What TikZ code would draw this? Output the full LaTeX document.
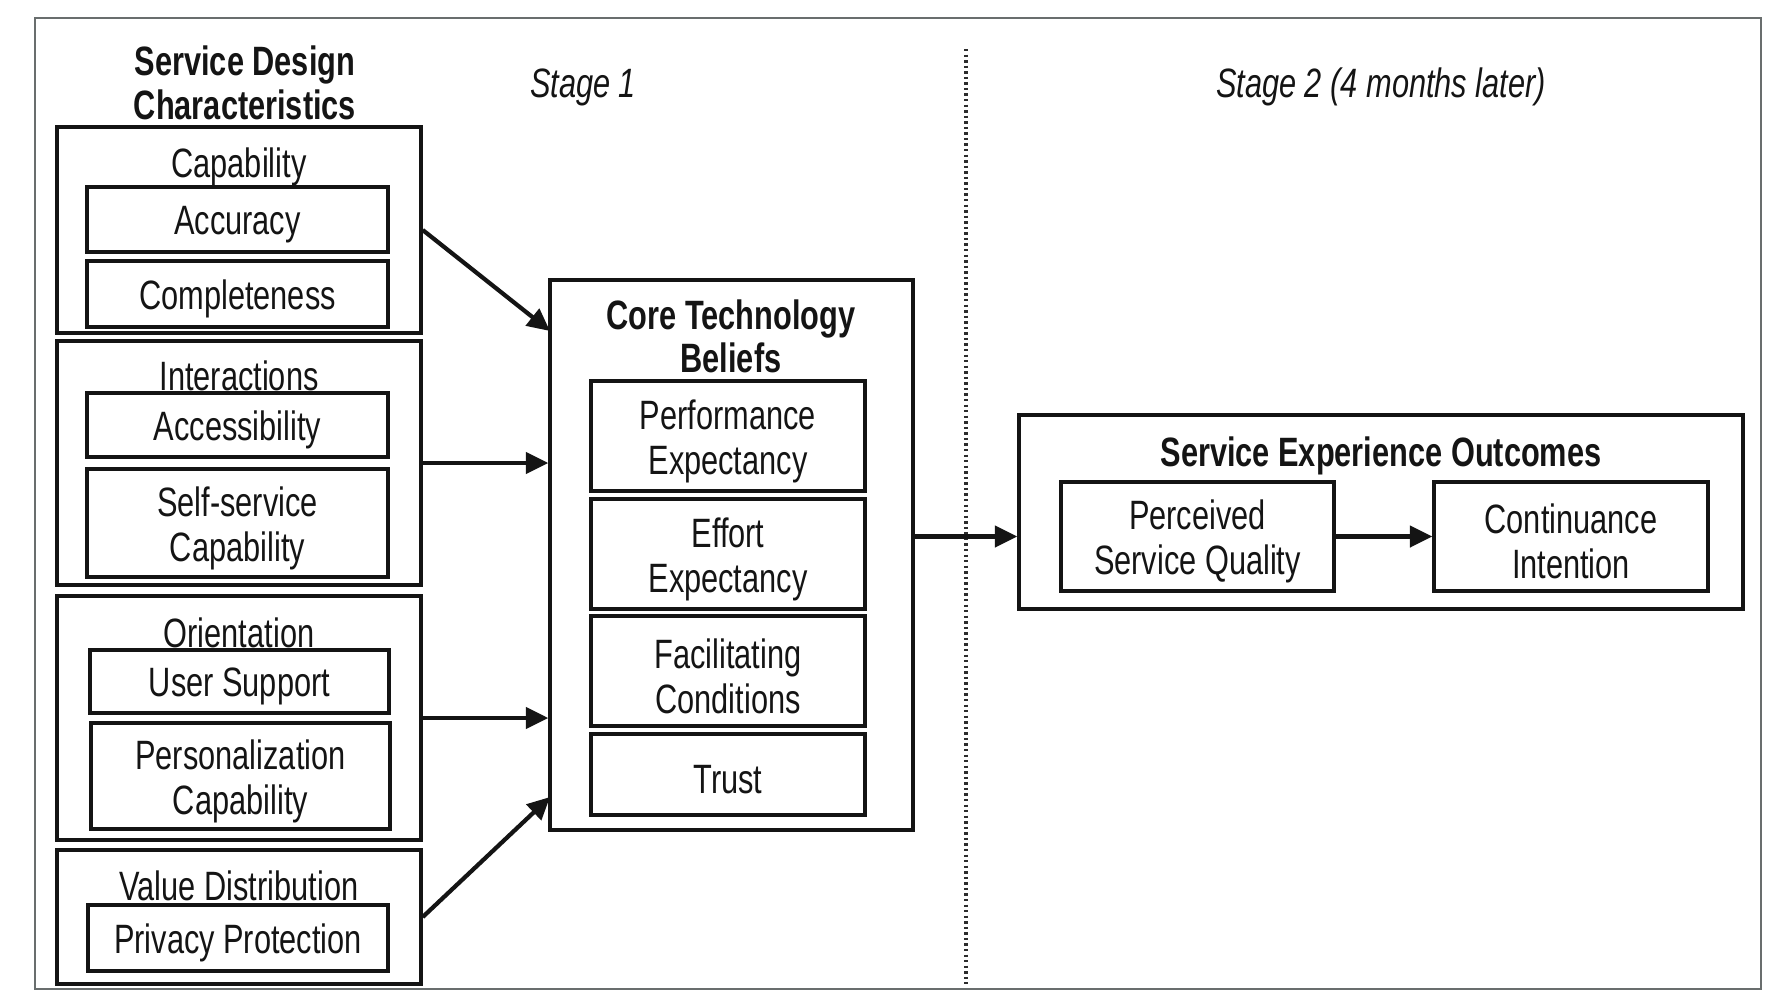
\documentclass[tikz,border=0pt]{standalone}
\usepackage{fontspec}
\setmainfont{Liberation Sans}[FakeStretch=0.75]
\usetikzlibrary{arrows.meta,positioning,fit}
\definecolor{frameline}{RGB}{105,110,110}
\definecolor{inkline}{RGB}{20,20,20}

\begin{document}
\begin{tikzpicture}[x=0.378pt,y=-0.378pt,
  box/.style={draw=inkline,line width=1.3pt,inner sep=0pt},
  txt/.style={align=center,inner sep=0pt,text=inkline,yshift=-2pt,
    font=\fontsize{15.5}{17}\selectfont},
  grp/.style={draw=inkline,line width=1.3pt,inner sep=0pt},
  lbl/.style={anchor=base,text=inkline,yshift=-0.9pt,font=\fontsize{15.5}{17}\selectfont},
  ttl/.style={anchor=base,text=inkline,yshift=-0.9pt,font=\fontsize{15.5}{17}\selectfont\bfseries},
  stage/.style={anchor=base,text=inkline,yshift=-0.6pt,font=\fontsize{15.5}{17}\selectfont\itshape},
  arr/.style={draw=inkline,line width=1.6pt,-{Triangle[length=8.5pt,width=8pt]}}]
  \useasboundingbox (0,0) rectangle (1778,1005);
  \draw[frameline,line width=0.8pt] (35,18) rectangle (1761,989);
  \draw[inkline!90,line width=1.2pt,dash pattern=on 0.9pt off 1.2pt] (966,49) -- (966,984);

  % stage labels
  \node[stage] (st1) at (583,96) {Stage 1};
  \node[stage] (st2) at (1381,96) {Stage 2 (4 months later)};

  % service design characteristics
  \node[ttl] (sdc1) at (245,73) {Service Design};
  \node[ttl] (sdc2) at (245,117) {Characteristics};

  \node[grp,fit={(57,127) (421,333)}] (cap) {};
  \node[lbl] (caplbl) at (239,175) {Capability};
  \node[box,fit={(87,187) (388,252)}] (acc) {};
  \node[txt] at (acc) {Accuracy};
  \node[box,fit={(87,261) (388,327)}] (com) {};
  \node[txt] at (com) {Completeness};

  \node[grp,fit={(57,341) (421,585)}] (int) {};
  \node[lbl] (intlbl) at (239,388) {Interactions};
  \node[box,fit={(87,393) (388,457)}] (axs) {};
  \node[txt] at (axs) {Accessibility};
  \node[box,fit={(87,469) (388,577)}] (ssc) {};
  \node[txt] at (ssc) {Self-service\\Capability};

  \node[grp,fit={(57,596) (421,840)}] (ori) {};
  \node[lbl] (orilbl) at (239,645) {Orientation};
  \node[box,fit={(90,650) (389,713)}] (usr) {};
  \node[txt] at (usr) {User Support};
  \node[box,fit={(91,723) (390,829)}] (pers) {};
  \node[txt] at (pers) {Personalization\\Capability};

  \node[grp,fit={(57,850) (421,984)}] (val) {};
  \node[lbl] (vallbl) at (239,898) {Value Distribution};
  \node[box,fit={(88,905) (388,971)}] (priv) {};
  \node[txt] at (priv) {Privacy Protection};

  % core technology beliefs
  \node[grp,fit={(550,280) (913,830)}] (core) {};
  \node[ttl] (ctb1) at (731,327) {Core Technology};
  \node[ttl] (ctb2) at (731,370) {Beliefs};
  \node[box,fit={(591,381) (865,491)}] (pe) {};
  \node[txt] at (pe) {Performance\\Expectancy};
  \node[box,fit={(591,499) (865,609)}] (ee) {};
  \node[txt] at (ee) {Effort\\Expectancy};
  \node[box,fit={(591,616) (865,726)}] (fc) {};
  \node[txt] at (fc) {Facilitating\\Conditions};
  \node[box,fit={(591,734) (865,815)}] (tr) {};
  \node[txt] at (tr) {Trust};

  % service experience outcomes
  \node[grp,fit={(1019,415) (1743,609)}] (out) {};
  \node[ttl] (seo) at (1381,464) {Service Experience Outcomes};
  \node[box,fit={(1061,482) (1334,591)}] (per) {};
  \node[txt] at (per) {Perceived\\Service Quality};
  \node[box,fit={(1434,482) (1708,591)}] (con) {};
  \node[txt] at (con) {Continuance\\Intention};

  \coordinate (in1) at (550,331);
  \coordinate (in4) at (550,797);
  \draw[arr] (cap.east) -- (in1);
  \draw[arr] (int.east) -- (int.east -| core.west);
  \draw[arr] (ori.east) -- (ori.east -| core.west);
  \draw[arr] (val.east) -- (in4);
  \draw[arr] (core.east |- per) -- (out.west |- per);
  \draw[arr] (per) -- (con);
\end{tikzpicture}
\end{document}
